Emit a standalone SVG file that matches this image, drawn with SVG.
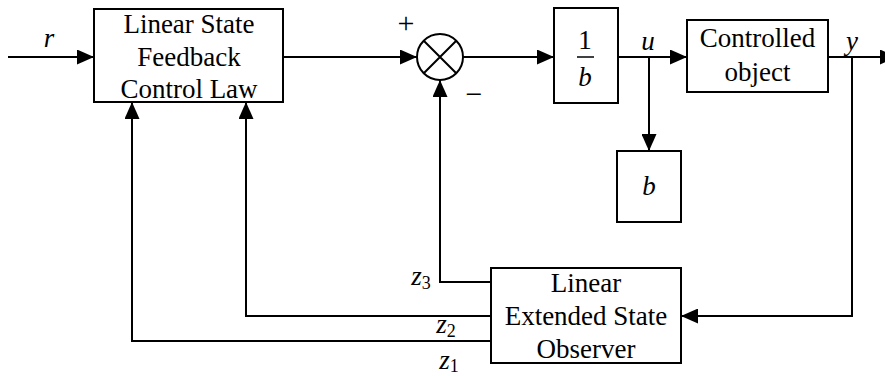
<svg xmlns="http://www.w3.org/2000/svg" width="885" height="376" viewBox="0 0 885 376">
<style>
.box{fill:#fff;stroke:#000;stroke-width:2}
.ln{fill:none;stroke:#000;stroke-width:2}
text{font-family:'Liberation Serif','Times New Roman','DejaVu Serif',serif;fill:#000}
.t{font-size:27px;text-anchor:middle}
.i{font-style:italic}
.sub{font-size:18px;font-style:normal}
</style>
<defs>
<marker id="ar" markerUnits="userSpaceOnUse" markerWidth="17" markerHeight="15" refX="17" refY="7.5" orient="auto">
<path d="M0,0 L17,7.5 L0,15 z" fill="#000"/>
</marker>
</defs>
<rect width="885" height="376" fill="#fff"/>
<g id="connectors">
<path class="ln" d="M8,57 H94" marker-end="url(#ar)"/>
<path class="ln" d="M283,57 H417" marker-end="url(#ar)"/>
<path class="ln" d="M463,57 H554" marker-end="url(#ar)"/>
<path class="ln" d="M618,57 H687" marker-end="url(#ar)"/>
<path class="ln" d="M649,57 V151" marker-end="url(#ar)"/>
<path class="ln" d="M828,57 H897" marker-end="url(#ar)"/>
<path class="ln" d="M852,57 V316 H681" marker-end="url(#ar)"/>
<path class="ln" d="M491,282 H440 V80" marker-end="url(#ar)"/>
<path class="ln" d="M491,316 H246 V102" marker-end="url(#ar)"/>
<path class="ln" d="M491,341 H132 V102" marker-end="url(#ar)"/>
</g>
<g id="controller">
<rect class="box" x="94" y="9" width="189" height="93"/>
<text class="t" x="189" y="33">Linear State</text>
<text class="t" x="189" y="66">Feedback</text>
<text class="t" x="189" y="98">Control Law</text>
</g>
<g id="sum">
<circle class="box" cx="440" cy="57" r="23"/>
<path class="ln" d="M424,41 L456,73 M456,41 L424,73"/>
<text class="t" x="406" y="33" style="font-size:30px">+</text>
<text class="t" x="474" y="104" style="font-size:30px">−</text>
</g>
<g id="inv-b">
<rect class="box" x="554" y="8" width="64" height="95"/>
<text class="t" x="585" y="49">1</text>
<line x1="577" y1="57" x2="594" y2="57" stroke="#000" stroke-width="1.5"/>
<text class="t i" x="585" y="86">b</text>
</g>
<g id="plant">
<rect class="box" x="687" y="20" width="141" height="72"/>
<text class="t" x="757.5" y="47">Controlled</text>
<text class="t" x="757.5" y="81">object</text>
</g>
<g id="b-block">
<rect class="box" x="617" y="151" width="64" height="71"/>
<text class="t i" x="649" y="195">b</text>
</g>
<g id="leso">
<rect class="box" x="491" y="268" width="190" height="95"/>
<text class="t" x="586" y="292">Linear</text>
<text class="t" x="586" y="325">Extended State</text>
<text class="t" x="586" y="358">Observer</text>
</g>
<g id="labels">
<text class="t i" x="49" y="47">r</text>
<text class="t i" x="648" y="50">u</text>
<text class="t i" x="852" y="50">y</text>
<text class="t i" x="421" y="285">z<tspan class="sub" dy="4">3</tspan></text>
<text class="t i" x="446" y="333">z<tspan class="sub" dy="4">2</tspan></text>
<text class="t i" x="449" y="369">z<tspan class="sub" dy="3">1</tspan></text>
</g>
</svg>
